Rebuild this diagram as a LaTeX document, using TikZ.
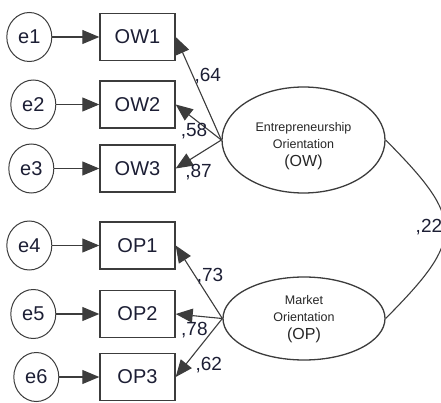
\documentclass[tikz,border=0pt]{standalone}
\usepackage{fontspec}
\setmainfont{Liberation Sans}
\usetikzlibrary{positioning,shapes.geometric,arrows.meta}

\definecolor{ink}{RGB}{28,30,52}
\definecolor{edge}{RGB}{60,60,60}

\tikzset{
	>={Triangle[length=17pt,width=14pt]},
	ind/.style={draw=edge, line width=1.4pt, minimum width=75pt, minimum height=47pt, text=ink, font=\fontsize{20}{24}\selectfont},
	err/.style={ellipse, draw=edge, line width=1pt, minimum width=45pt, minimum height=49pt, inner sep=0pt, text=ink, font=\fontsize{20}{24}\selectfont},
	lat/.style={ellipse, draw=edge, line width=1.3pt, inner sep=0pt},
	lattext/.style={align=center, inner sep=0pt, text=black!85, font=\fontsize{12.5}{17}\selectfont},
	wt/.style={inner sep=1pt, text=ink, font=\fontsize{19}{22}\selectfont},
	path/.style={draw=edge, line width=1.1pt},
}

\begin{document}
\begin{tikzpicture}[x=1pt, y=-1pt]
	\useasboundingbox (0,0) rectangle (441,403);
	\node [ind] (OW1) at (137.5,37) {OW1};
	\node [ind] (OW2) at (137.5,104.5) {OW2};
	\node [ind] (OW3) at (137.5,168.5) {OW3};
	\node [ind] (OP1) at (137.5,245.5) {OP1};
	\node [ind] (OP2) at (137.5,314) {OP2};
	\node [ind] (OP3) at (137.5,377) {OP3};
	\node [err, left=47pt of OW1] (e1) {e1};
	\node [err, left=43pt of OW2] (e2) {e2};
	\node [err, left=45pt of OW3] (e3) {e3};
	\node [err, left=47pt of OP1] (e4) {e4};
	\node [err, left=43pt of OP2] (e5) {e5};
	\node [err, left=40pt of OP3] (e6) {e6};
	\node [lat, minimum width=163pt, minimum height=106pt] (OW) at (303.5,140) {};
	\node [lattext] (OWtext) at ([yshift=-6pt]OW.center) {Entrepreneurship\\Orientation\\[1pt]{\fontsize{16}{19}\selectfont (OW)}};
	\node [lat, minimum width=162pt, minimum height=83pt] (OP) at (304,318.5) {};
	\node [lattext] (OPtext) at ([yshift=-1pt]OP.center) {Market\\Orientation\\[1pt]{\fontsize{16}{19}\selectfont (OP)}};
	\draw [path, ->] (e1) to (OW1);
	\draw [path, ->] (e2) to (OW2);
	\draw [path, ->] (e3) to (OW3);
	\draw [path, ->] (e4) to (OP1);
	\draw [path, ->] (e5) to (OP2);
	\draw [path, ->] (e6) to (OP3);
	\draw [path, ->] (OW.west) to node [wt, pos=0.62, anchor=west] {,64} (OW1.east);
	\draw [path, ->] (OW.west) to node [wt, pos=0.6, below=3pt] {,58} (OW2.east);
	\draw [path, ->] (OW.west) to node [wt, pos=0.5, below=8pt] {,87} (OW3.east);
	\draw [path, ->] (OP.west) to node [wt, pos=0.58, anchor=west] {,73} (OP1.east);
	\draw [path, ->] (OP.west) to node [wt, pos=0.6, below=5pt] {,78} (OP2.east);
	\draw [path, ->] (OP.west) to node [wt, pos=0.8, right=9pt] {,62} (OP3.east);
	\draw [path] (OW.east) .. controls (465,220) and (465,238.5) .. node [wt, pos=0.5, anchor=west, xshift=-31pt, yshift=2pt] {,22} (OP.east);
\end{tikzpicture}
\end{document}
